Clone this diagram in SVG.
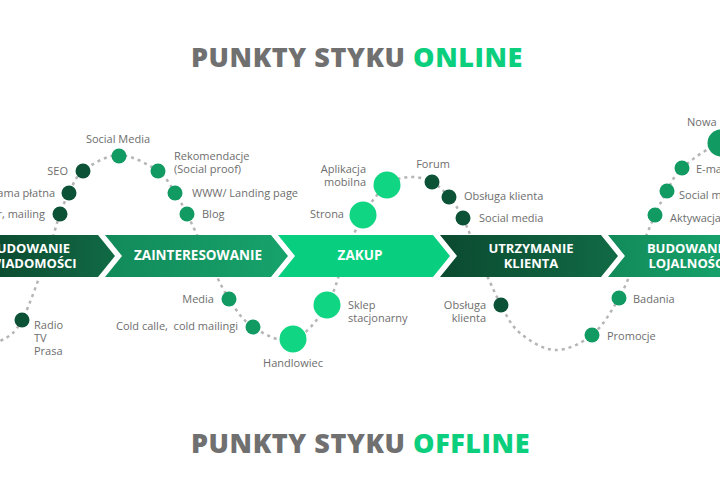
<svg xmlns="http://www.w3.org/2000/svg" width="720" height="500" viewBox="0 0 720 500">
<style>
.t{font-family:"Open Sans","Liberation Sans",sans-serif;font-size:11px;fill:#6e6e6e}
.e{text-anchor:end}
.m{text-anchor:middle}
.h{font-family:"Open Sans","Liberation Sans",sans-serif;font-size:27px;font-weight:800;letter-spacing:0.55px}
.b{font-family:"Open Sans","Liberation Sans",sans-serif;font-size:13.5px;font-weight:700;fill:#ffffff;text-anchor:middle}
.b2{font-size:13px}
.d1{fill:#0c5236}
.d2{fill:#119a62}
.d3{fill:#10d583}
.curve{fill:none;stroke:#b5b5b5;stroke-width:2.5;stroke-dasharray:3 4}
</style>
<defs>
<linearGradient id="gDark" x1="0" y1="0" x2="1" y2="0"><stop offset="0" stop-color="#0b4a30"/><stop offset="1" stop-color="#116a45"/></linearGradient>
<linearGradient id="gMid" x1="0" y1="0" x2="1" y2="0"><stop offset="0" stop-color="#128a5a"/><stop offset="1" stop-color="#17a36b"/></linearGradient>
</defs>
<rect width="720" height="500" fill="#ffffff"/>
<text class="h" x="191" y="67"><tspan fill="#707070">PUNKTY STYKU </tspan><tspan fill="#0ccf7e">ONLINE</tspan></text>
<text class="h" x="191" y="453"><tspan fill="#707070">PUNKTY STYKU </tspan><tspan fill="#0ccf7e">OFFLINE</tspan></text>
<g id="connectors">
<path class="curve" d="M -40 352 C -26.7 348.3 -10.3 346.3 0 341 C 10.3 335.7 14.2 334.3 22 320 C 29.8 305.7 40.7 272.7 47 255 C 53.3 237.3 56.3 224.3 60 214 C 63.7 203.7 65.2 200.2 69 193 C 72.8 185.8 74.7 177.3 83 171 C 91.3 164.7 106.5 155 119 155 C 131.5 155 148.7 164.7 158 171 C 167.3 177.3 170.2 185.8 175 193 C 179.8 200.2 181.7 203.5 187 214 C 192.3 224.5 200 241.8 207 256 C 214 270.2 221.3 287.2 229 299 C 236.7 310.8 242.3 320.2 253 327 C 263.7 333.8 280.7 343.7 293 340 C 305.3 336.3 318.3 318.8 327 305 C 335.7 291.2 339 272 345 257 C 351 242 356 227 363 215 C 370 203 379.2 191.3 387 185 C 394.8 178.7 402.5 177.5 410 177 C 417.5 176.5 425.5 178.7 432 182 C 438.5 185.3 443.8 191 449 197 C 454.2 203 458 208 463 218 C 468 228 472.7 242.5 479 257 C 485.3 271.5 494.2 292.3 501 305 C 507.8 317.7 511 325.5 520 333 C 529 340.5 543 349.7 555 350 C 567 350.3 581.3 343.7 592 335 C 602.7 326.3 611.3 311.3 619 298 C 626.7 284.7 632 268.8 638 255 C 644 241.2 650.2 225.7 655 215 C 659.8 204.3 662.5 198.8 667 191 C 671.5 183.2 673.2 176 682 168 C 690.8 160 707 148.5 720 143 C 733 137.5 746.7 137.7 760 135"/>
</g>
<g id="stage-swiadomosc">
<polygon points="-10,235 98,235 115,256 98,277 -10,277" fill="url(#gDark)"/>
<text class="b b2" x="29" y="253">BUDOWANIE</text>
<text class="b b2" x="29" y="268">ŚWIADOMOŚCI</text>
</g>
<g id="stage-zainteresowanie">
<polygon points="105,235 271,235 288,256 271,277 105,277 122,256" fill="url(#gMid)"/>
<text class="b" x="198" y="260">ZAINTERESOWANIE</text>
</g>
<g id="stage-zakup">
<polygon points="278,235 433,235 450,256 433,277 278,277 295,256" fill="#07cf7f"/>
<text class="b" x="360" y="260">ZAKUP</text>
</g>
<g id="stage-utrzymanie">
<polygon points="440,235 601,235 618,256 601,277 440,277 457,256" fill="url(#gDark)"/>
<text class="b b2" x="531" y="253">UTRZYMANIE</text>
<text class="b b2" x="531" y="268">KLIENTA</text>
</g>
<g id="stage-lojalnosc">
<polygon points="608,235 730,235 730,277 608,277 625,256" fill="url(#gMid)"/>
<text class="b b2" x="688" y="253">BUDOWANIE</text>
<text class="b b2" x="688" y="268">LOJALNOŚCI</text>
</g>
<g id="n-radio"><circle class="d1" cx="22" cy="320" r="7.5"/><text class="t" x="34" y="329">Radio</text><text class="t" x="34" y="342">TV</text><text class="t" x="34" y="355">Prasa</text></g>
<g id="n-mailing"><circle class="d1" cx="60" cy="214" r="7.5"/><text class="t e" x="45" y="218">Newsletter, mailing</text></g>
<g id="n-reklama"><circle class="d1" cx="69" cy="193" r="7.5"/><text class="t e" x="55" y="197">Reklama płatna</text></g>
<g id="n-seo"><circle class="d1" cx="83" cy="171" r="7.5"/><text class="t e" x="68" y="175">SEO</text></g>
<g id="n-socialmedia"><circle class="d2" cx="119" cy="156" r="7.5"/><text class="t m" x="118" y="143">Social Media</text></g>
<g id="n-rekomendacje"><circle class="d2" cx="158" cy="171" r="7.5"/><text class="t" x="174" y="160">Rekomendacje</text><text class="t" x="174" y="173">(Social proof)</text></g>
<g id="n-www"><circle class="d2" cx="175" cy="193" r="7.5"/><text class="t" x="192" y="197">WWW/ Landing page</text></g>
<g id="n-blog"><circle class="d2" cx="187" cy="214" r="7.5"/><text class="t" x="202" y="218">Blog</text></g>
<g id="n-media"><circle class="d2" cx="229" cy="299" r="7.5"/><text class="t e" x="214" y="303">Media</text></g>
<g id="n-cold"><circle class="d2" cx="253" cy="327" r="7.5"/><text class="t e" x="238" y="330" style="white-space:pre">Cold calle,  cold mailingi</text></g>
<g id="n-handlowiec"><circle class="d3" cx="293" cy="339" r="13.5"/><text class="t m" x="293" y="367">Handlowiec</text></g>
<g id="n-sklep"><circle class="d3" cx="327" cy="305" r="13.5"/><text class="t" x="348" y="309">Sklep</text><text class="t" x="348" y="322">stacjonarny</text></g>
<g id="n-strona"><circle class="d3" cx="363" cy="215" r="13.5"/><text class="t e" x="344" y="218">Strona</text></g>
<g id="n-aplikacja"><circle class="d3" cx="387" cy="185" r="13.5"/><text class="t e" x="366" y="173">Aplikacja</text><text class="t e" x="366" y="186">mobilna</text></g>
<g id="n-forum"><circle class="d1" cx="432" cy="182" r="7.5"/><text class="t m" x="433" y="168">Forum</text></g>
<g id="n-obsluga1"><circle class="d1" cx="449" cy="197" r="7.5"/><text class="t" x="464" y="200">Obsługa klienta</text></g>
<g id="n-socialmedia2"><circle class="d1" cx="463" cy="218" r="7.5"/><text class="t" x="479" y="222">Social media</text></g>
<g id="n-obsluga2"><circle class="d1" cx="501" cy="305" r="7.5"/><text class="t e" x="486" y="309">Obsługa</text><text class="t e" x="486" y="322">klienta</text></g>
<g id="n-promocje"><circle class="d2" cx="592" cy="335" r="7.5"/><text class="t" x="607" y="340">Promocje</text></g>
<g id="n-badania"><circle class="d2" cx="619" cy="298" r="7.5"/><text class="t" x="633" y="303">Badania</text></g>
<g id="n-aktywacja"><circle class="d2" cx="655" cy="215" r="7.5"/><text class="t" x="670" y="222">Aktywacja</text></g>
<g id="n-socialmedia3"><circle class="d2" cx="667" cy="191" r="7.5"/><text class="t" x="679" y="199">Social media</text></g>
<g id="n-email"><circle class="d2" cx="682" cy="168" r="7.5"/><text class="t" x="696" y="173">E-mail</text></g>
<g id="n-nowa"><circle class="d2" cx="721" cy="143" r="13.5"/><text class="t" x="687" y="126">Nowa</text></g>
</svg>
